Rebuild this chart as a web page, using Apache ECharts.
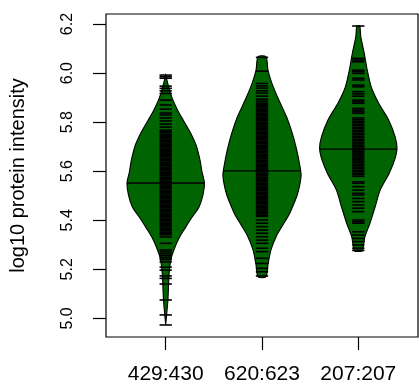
<!DOCTYPE html>
<html>
<head>
<meta charset="utf-8">
<script src="https://cdn.jsdelivr.net/npm/echarts@6/dist/echarts.min.js"></script>
<style>
html,body{margin:0;padding:0;background:#fff;}
#chart{width:419px;height:388px;}
</style>
</head>
<body>
<div id="chart"></div>
<script>
// ---- data ----
const categories = ['429:430', '620:623', '207:207'];
const yTicks = [5.0, 5.2, 5.4, 5.6, 5.8, 6.0, 6.2];
const xTicks = [1, 2, 3];

// bean outlines: [value, half-width of density in x units]
const bean1Outline = [[5.992,0],[5.951,0.026],[5.898,0.067],[5.849,0.124],[5.809,0.181],[5.760,0.253],[5.707,0.315],[5.646,0.356],[5.597,0.377],[5.552,0.402],[5.503,0.387],[5.454,0.346],[5.409,0.268],[5.368,0.201],[5.328,0.139],[5.287,0.093],[5.246,0.057],[5.185,0.036],[5.075,0.023],[4.973,0]];
const bean2Outline = [[6.067,0.041],[6.012,0.062],[5.958,0.103],[5.890,0.175],[5.822,0.255],[5.754,0.315],[5.686,0.361],[5.618,0.395],[5.584,0.406],[5.544,0.392],[5.503,0.366],[5.462,0.325],[5.421,0.279],[5.381,0.217],[5.340,0.155],[5.279,0.093],[5.218,0.062],[5.169,0.041]];
const bean3Outline = [[6.192,0.015],[6.148,0.026],[6.081,0.062],[6.012,0.093],[5.944,0.134],[5.877,0.212],[5.809,0.315],[5.741,0.382],[5.694,0.402],[5.646,0.377],[5.591,0.320],[5.523,0.227],[5.455,0.175],[5.388,0.121],[5.333,0.069],[5.292,0.052],[5.275,0.041]];

// individual observations (bean lines)
const bean1Values = [5.992,5.985,5.979,5.947,5.938,5.928,5.917,5.890,5.870,5.853,5.837,5.829,5.817,5.805,5.792,5.780,
5.768,5.762,5.758,5.751,5.747,5.741,5.736,5.731,5.725,5.721,5.715,5.710,5.706,5.700,5.695,5.689,5.685,5.679,5.674,5.669,5.663,5.659,5.653,5.648,5.643,5.637,5.633,5.627,5.622,5.617,5.611,5.607,5.601,5.596,5.591,5.585,5.581,5.575,5.570,5.565,5.559,5.555,5.549,5.544,5.539,5.533,5.529,5.523,5.518,5.513,5.507,5.503,5.497,5.492,5.487,5.481,5.477,5.471,5.466,5.461,5.455,5.451,5.445,5.440,5.435,5.429,5.425,5.419,5.414,5.409,5.403,5.399,5.393,5.388,5.383,5.377,5.373,5.367,5.362,5.357,5.351,5.347,5.341,
5.332,5.306,5.279,5.271,5.263,5.255,5.247,5.240,5.230,5.209,5.197,5.173,5.163,5.140,5.075,5.014,4.973];
const bean2Values = [6.064,6.008,5.958,5.948,5.939,5.928,5.919,5.906,5.894,5.886,
5.878,5.873,5.867,5.862,5.858,5.852,5.847,5.842,5.836,5.832,5.826,5.821,5.816,5.810,5.806,5.800,5.795,5.790,5.784,5.780,5.774,5.769,5.764,5.758,5.754,5.748,5.743,5.738,5.732,5.728,5.722,5.717,5.712,5.706,5.702,5.696,5.691,5.686,5.680,5.676,5.670,5.665,5.660,5.654,5.650,5.644,5.639,5.634,5.628,5.624,5.618,5.613,5.608,5.602,5.598,5.592,5.587,5.582,5.576,5.572,5.566,5.561,5.556,5.550,5.546,5.540,5.535,5.530,5.524,5.520,5.514,5.509,5.504,5.498,5.494,5.488,5.483,5.478,5.472,5.468,5.462,5.457,5.452,5.446,5.442,5.436,5.431,5.426,5.420,5.416,
5.401,5.388,5.374,5.360,5.347,5.333,5.319,5.306,5.286,5.272,5.245,5.224,5.204,5.190,5.173];
const bean3Values = [6.192,6.060,6.053,6.046,6.012,6.006,5.999,5.979,5.972,5.951,5.944,5.924,5.915,5.906,5.890,5.883,5.877,5.856,5.849,5.842,5.836,
5.817,5.811,5.804,5.799,5.792,5.786,5.779,5.774,5.767,5.761,5.754,5.749,5.742,5.736,5.729,5.724,5.717,5.711,5.704,5.699,5.692,5.686,5.679,5.674,5.667,5.661,5.654,5.649,5.642,5.636,5.629,5.624,5.617,5.611,5.604,5.599,5.592,5.586,5.579,
5.557,5.551,5.537,5.523,5.510,5.503,5.489,5.476,5.462,5.449,5.435,5.401,5.394,5.388,5.353,5.340,5.326,5.313,5.299,5.286,5.277];

const medians = [5.552, 5.601, 5.690];

// ---- rendering ----
const outlines = [bean1Outline, bean2Outline, bean3Outline];
const values = [bean1Values, bean2Values, bean3Values];
const BEANLINE_HALF = 0.064;

function halfWidthAt(ol, v) {
  for (let k = 0; k < ol.length - 1; k++) {
    const a = ol[k], b = ol[k + 1];
    if ((v <= a[0] && v >= b[0])) {
      const t = (a[0] - v) / (a[0] - b[0]);
      return a[1] + t * (b[1] - a[1]);
    }
  }
  return 0;
}

function renderBean(params, api) {
  const i = params.dataIndex;
  const cx = i + 1;
  const ol = outlines[i];
  const right = ol.map(p => api.coord([cx + p[1], p[0]]));
  const left = ol.slice().reverse().map(p => api.coord([cx - p[1], p[0]]));
  const children = [{
    type: 'polygon',
    shape: { points: right.concat(left), smooth: 0.25 },
    style: { fill: '#006400', stroke: '#000', lineWidth: 1.1 }
  }];
  values[i].forEach(v => {
    const p1 = api.coord([cx - BEANLINE_HALF, v]);
    const p2 = api.coord([cx + BEANLINE_HALF, v]);
    children.push({
      type: 'line',
      shape: { x1: p1[0], y1: p1[1], x2: p2[0], y2: p2[1] },
      style: { stroke: '#000', lineWidth: 1.6 }
    });
  });
  const hw = halfWidthAt(ol, medians[i]);
  const m1 = api.coord([cx - hw, medians[i]]);
  const m2 = api.coord([cx + hw, medians[i]]);
  children.push({
    type: 'line',
    shape: { x1: m1[0], y1: m1[1], x2: m2[0], y2: m2[1] },
    style: { stroke: '#000', lineWidth: 1.3 }
  });
  return { type: 'group', children: children };
}

const chart = echarts.init(document.getElementById('chart'), null, { renderer: 'canvas' });
chart.setOption({
  animation: false,
  backgroundColor: '#fff',
  textStyle: { fontFamily: '"Liberation Sans", Arial, sans-serif', color: '#000' },
  grid: {
    left: 104, top: 14, width: 314, height: 323,
    show: true, borderColor: '#000', borderWidth: 1.2, backgroundColor: 'transparent'
  },
  xAxis: {
    type: 'value', min: 0.38, max: 3.62,
    axisLine: { show: false },
    splitLine: { show: false },
    axisTick: { show: true, customValues: xTicks, length: 13, lineStyle: { color: '#000', width: 1.2 } },
    axisLabel: {
      customValues: xTicks, fontSize: 21, margin: 27, color: '#000',
      fontFamily: '"Liberation Sans", Arial, sans-serif',
      formatter: v => categories[Math.round(v) - 1]
    }
  },
  yAxis: {
    type: 'value', min: 4.924, max: 6.241,
    axisLine: { show: false },
    splitLine: { show: false },
    axisTick: { show: true, customValues: yTicks, length: 13, lineStyle: { color: '#000', width: 1.2 } },
    axisLabel: {
      customValues: yTicks, fontSize: 16, rotate: 90, margin: 30, color: '#000',
      fontFamily: '"Liberation Sans", Arial, sans-serif',
      formatter: v => v.toFixed(1)
    },
    name: 'log10 protein intensity',
    nameLocation: 'middle',
    nameRotate: 90,
    nameGap: 78,
    nameTextStyle: { fontSize: 20, color: '#000', fontFamily: '"Liberation Sans", Arial, sans-serif' }
  },
  series: [{
    type: 'custom',
    renderItem: renderBean,
    data: [[1], [2], [3]],
    encode: { x: 0 },
    clip: false
  }]
});
</script>
</body>
</html>
